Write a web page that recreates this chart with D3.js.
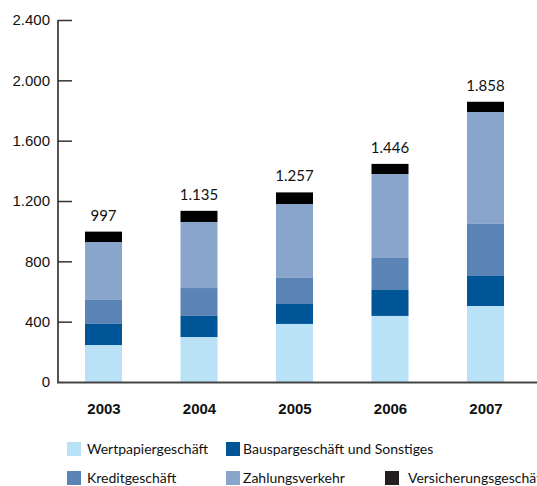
<!DOCTYPE html>
<html lang="de">
<head>
<meta charset="UTF-8">
<title>Provisionsergebnis</title>
<script src="https://cdn.jsdelivr.net/npm/d3@7"></script>
<style>
  body { margin: 0; background: #fff; }
  svg { display: block; font-family: Lato, "Noto Sans", sans-serif; }
</style>
</head>
<body>
<div id="vis"></div>
<script>
var width = 537;
var height = 486;

// data
var years = ["2003", "2004", "2005", "2006", "2007"];
var seriesNames = ["Wertpapiergeschäft", "Bauspargeschäft und Sonstiges", "Kreditgeschäft", "Zahlungsverkehr", "Versicherungsgeschäft"];
var wertpapier = [245, 298, 385, 438, 504];
var bauspar = [140, 140, 132, 172, 199];
var kredit = [159, 185, 173, 212, 345];
var zahlung = [384, 438, 490, 557, 742];
var versicherung = [69, 74, 77, 67, 68];
var totals = [997, 1135, 1257, 1446, 1858];
var yTicks = [0, 400, 800, 1200, 1600, 2000, 2400];

var colors = ["#bae2f7", "#005596", "#5b84b6", "#8aa5cc", "#000000"];
var legendColors = ["#bae2f7", "#005596", "#5b84b6", "#8aa5cc", "#231f20"];

var table = years.map(function(y, i) {
  return {
    year: y,
    "Wertpapiergeschäft": wertpapier[i],
    "Bauspargeschäft und Sonstiges": bauspar[i],
    "Kreditgeschäft": kredit[i],
    "Zahlungsverkehr": zahlung[i],
    "Versicherungsgeschäft": versicherung[i],
    total: totals[i]
  };
});

var de = d3.formatLocale({ decimal: ",", thousands: ".", grouping: [3], currency: ["", " €"] });
var fmt = de.format(",d");

var svg = d3.select("#vis").append("svg")
  .attr("width", width)
  .attr("height", height);

var x = d3.scalePoint().domain(years).range([103.5, 485.5]);
var y = d3.scaleLinear().domain([0, 2400]).range([382, 20]);
var barW = 37;

var stack = d3.stack().keys(seriesNames);
var layers = stack(table);

// bars
svg.append("g").selectAll("g")
  .data(layers)
  .join("g")
    .attr("fill", function(d, i) { return colors[i]; })
  .selectAll("rect")
  .data(function(d) { return d; })
  .join("rect")
    .attr("x", function(d) { return x(d.data.year) - barW / 2; })
    .attr("y", function(d) { return y(d[1]); })
    .attr("width", barW)
    .attr("height", function(d) { return y(d[0]) - y(d[1]); });

// total labels
svg.append("g").selectAll("text")
  .data(table)
  .join("text")
    .attr("x", function(d) { return x(d.year); })
    .attr("y", function(d) { return y(d.total) - 11; })
    .attr("text-anchor", "middle")
    .attr("font-size", 15)
    .attr("fill", "#111")
    .text(function(d) { return fmt(d.total); });

// y axis
var yAxis = d3.axisRight(y).tickValues(yTicks).tickSize(14).tickFormat(fmt);
var gy = svg.append("g")
  .attr("transform", "translate(58,0)")
  .call(yAxis);
gy.select(".domain").attr("stroke", "#555").attr("stroke-width", 2).attr("d", "M0," + y(2400) + "V" + (y(0) + 1));
gy.selectAll(".tick line").attr("stroke", "#333").attr("stroke-width", 1.5);
gy.selectAll(".tick text")
  .attr("x", -8)
  .attr("text-anchor", "end")
  .attr("font-size", 15)
  .attr("fill", "#111");
gy.selectAll(".tick").filter(function(d) { return d === 0; }).select("line").remove();

// x baseline
svg.append("line")
  .attr("x1", 57).attr("x2", width)
  .attr("y1", y(0) + 0.5).attr("y2", y(0) + 0.5)
  .attr("stroke", "#444").attr("stroke-width", 2);

// x labels
var xAxis = d3.axisBottom(x).tickSize(0).tickPadding(0);
var gx = svg.append("g")
  .attr("transform", "translate(0,402)")
  .call(xAxis);
gx.select(".domain").remove();
gx.selectAll("text")
  .attr("dy", "0.8em")
  .attr("font-size", 15)
  .attr("font-weight", "bold")
  .attr("fill", "#111");

// legend
var legendPos = [[67, 442], [226, 442], [67, 471], [226, 471], [385, 471]];
var textOffset = [20, 17, 20, 17, 23];
var legend = svg.append("g").selectAll("g")
  .data(seriesNames)
  .join("g")
    .attr("transform", function(d, i) { return "translate(" + legendPos[i][0] + "," + legendPos[i][1] + ")"; });
legend.append("rect")
  .attr("width", 14).attr("height", 14)
  .attr("fill", function(d, i) { return legendColors[i]; });
legend.append("text")
  .attr("x", function(d, i) { return textOffset[i]; })
  .attr("y", 7)
  .attr("dy", "0.35em")
  .attr("font-size", 14)
  .attr("fill", "#111")
  .text(function(d) { return d; });
</script>
</body>
</html>
